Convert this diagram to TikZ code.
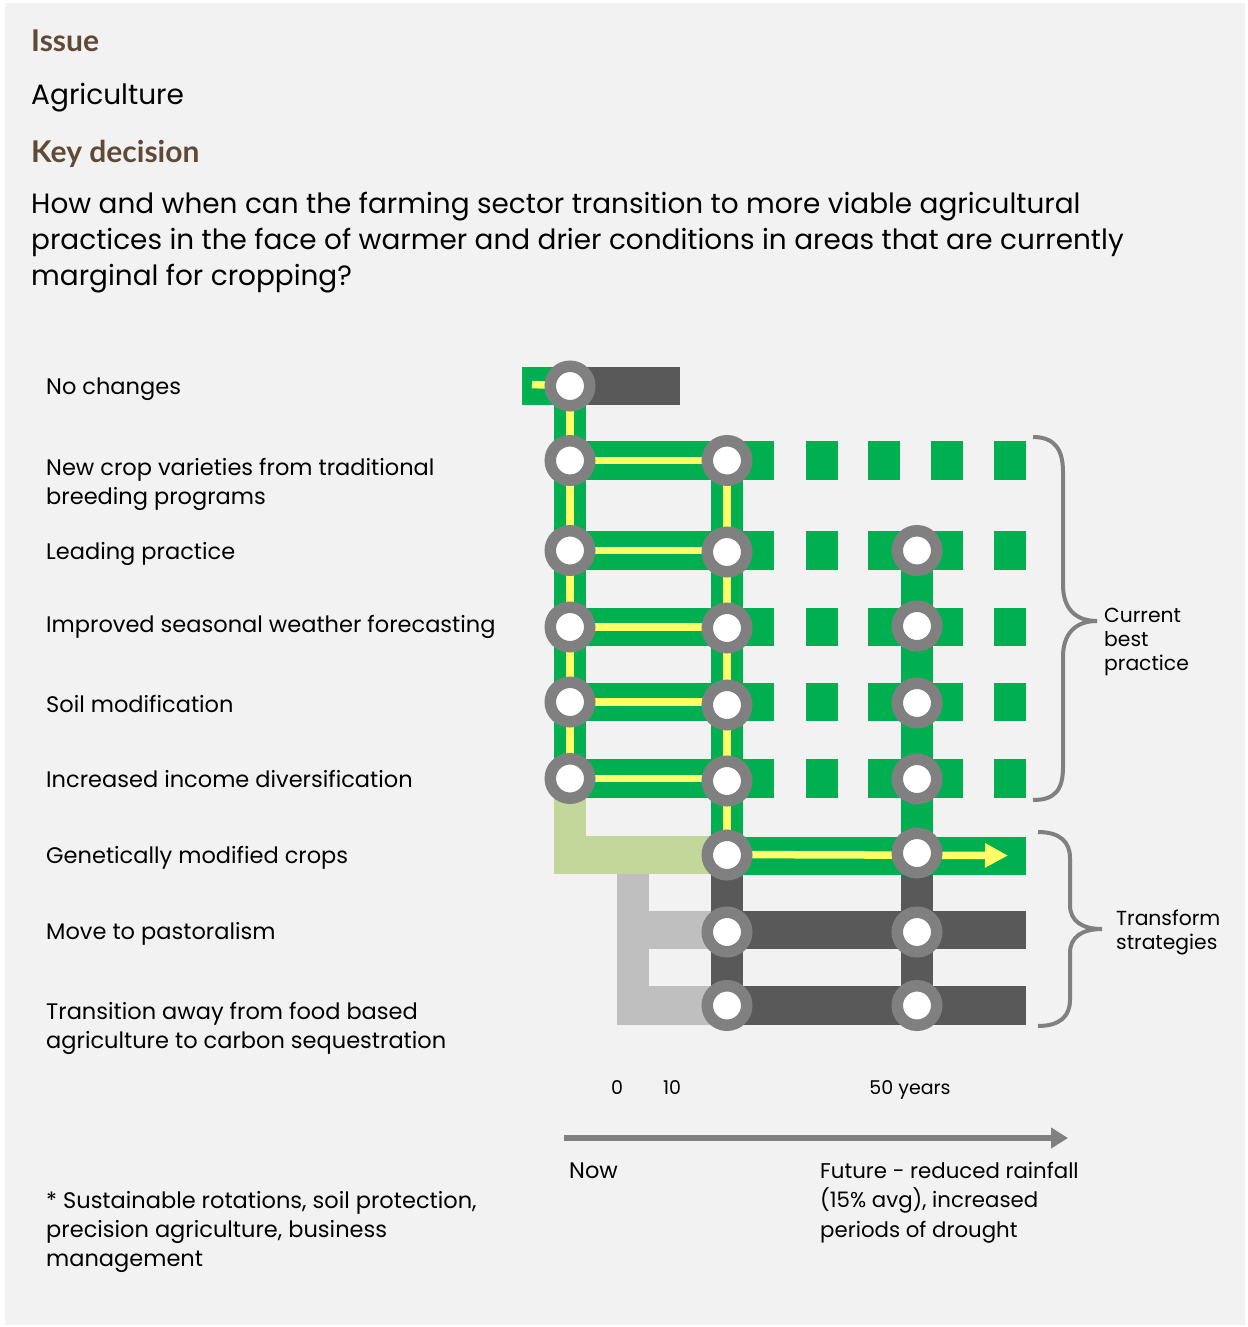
\documentclass[tikz,border=0pt]{standalone}
\usepackage{fontspec}
\setmainfont{Poppins}
\newfontfamily\hdfont{Lato}
\usetikzlibrary{arrows.meta,backgrounds}
\definecolor{bg}{HTML}{F2F2F2}
\definecolor{grn}{HTML}{00B050}
\definecolor{yel}{HTML}{FFFF66}
\definecolor{dgr}{HTML}{595959}
\definecolor{lgr}{HTML}{BFBFBF}
\definecolor{lgn}{HTML}{C4D79B}
\definecolor{mgr}{HTML}{808080}
\definecolor{brn}{HTML}{5E4A36}
\newcommand\labfont{\fontsize{22.5}{29}\selectfont}
\newcommand\futfont{\fontsize{21.3}{29.5}\selectfont}
\newcommand\qfont{\fontsize{27.9}{36}\selectfont}
\newcommand\smfont{\fontsize{19}{24}\selectfont}
\newcommand\brfont{\fontsize{20.3}{24}\selectfont}
\begin{document}
\begin{tikzpicture}[x=1pt,y=-1pt,
  stopnode/.style={circle, fill=white, draw=mgr, line width=11.5pt, minimum size=39.5pt, inner sep=0pt},
  vbar/.style={line width=32pt},
  hbar/.style={line width=38.5pt},
  yline/.style={yel, line width=7.5pt},
  txt/.style={anchor=base west, inner sep=0pt, align=left, text=black},
  brace/.style={draw=mgr, line width=4pt}]
\useasboundingbox (0,0) rectangle (1247,1327);
% stops
\node[stopnode] (a0) at (570,386) {};
\node[stopnode] (a1) at (570,460.5) {};
\node[stopnode] (a2) at (570,550.5) {};
\node[stopnode] (a3) at (570,627) {};
\node[stopnode] (a4) at (570,702) {};
\node[stopnode] (a5) at (570,778.5) {};
\node[stopnode] (b1) at (727,460.5) {};
\node[stopnode] (b2) at (727,552) {};
\node[stopnode] (b3) at (727,628) {};
\node[stopnode] (b4) at (727,705) {};
\node[stopnode] (b5) at (727,781) {};
\node[stopnode] (b6) at (727,855) {};
\node[stopnode] (b7) at (727,932) {};
\node[stopnode] (b8) at (727,1005.5) {};
\node[stopnode] (c2) at (917,550.5) {};
\node[stopnode] (c3) at (917,626) {};
\node[stopnode] (c4) at (917,703) {};
\node[stopnode] (c5) at (917,779) {};
\node[stopnode] (c6) at (917,853) {};
\node[stopnode] (c7) at (917,932) {};
\node[stopnode] (c8) at (917,1005.5) {};
% free ends
\coordinate (nc0) at (522,386);
\coordinate (nc1) at (680,386);
\coordinate (ny0) at (532,384.5);
\coordinate (lg0) at (633,873);
\coordinate (lg1) at (633,1025);
\coordinate (lg7) at (617,930);
\coordinate (lg8) at (617,1005.5);
\coordinate (ln0) at (570,873);
\coordinate (ln1) at (554,855);
\coordinate (e6) at (1026,855);
\coordinate (e7) at (1026,930);
\coordinate (e8) at (1026,1005.5);
\coordinate (ar6) at (1008,855.5);
\coordinate (ax0) at (564,1138);
\coordinate (ax1) at (1068,1138);
\begin{pgfonlayer}{background}
\fill[white] (0,0) rectangle (1247,1327);
\fill[bg] (5,3) rectangle (1245,1325);
% no changes
\draw[hbar, grn] (nc0) -- (a0.center);
\draw[hbar, dgr] (a0.center) -- (nc1);
% light grey
\draw[vbar, lgr] (lg0) -- (lg1);
\draw[hbar, lgr] (lg7) -- (lg7 -| b7.center);
\draw[hbar, lgr] (lg8) -- (b8.center);
% light green
\draw[vbar, lgn] (a5.center) -- (ln0);
\draw[hbar, lgn] (ln1) -- (b6.center);
% dark grey
\draw[vbar, dgr] (b6.center) -- (b8.center);
\draw[vbar, dgr] (c6.center) -- (c8.center);
\draw[hbar, dgr] (lg7 -| b7.center) -- (e7);
\draw[hbar, dgr] (b8.center) -- (e8);
% green verticals
\draw[vbar, grn] (a0.center) -- (a5.center);
\draw[vbar, grn] (b1.center) -- (b6.center);
\draw[vbar, grn] (c2.center) -- (c6.center);
% green rows
\foreach \n in {1,...,5}{
  \draw[hbar, grn] ([xshift=-16pt]a\n.center) -- ([xshift=47pt]a\n.center -| b\n.center);
  \fill[grn] ([yshift=-19.25pt]a\n.center -| 806,0) rectangle ([yshift=19.25pt]a\n.center -| 838,0);
  \fill[grn] ([yshift=-19.25pt]a\n.center -| 994,0) rectangle ([yshift=19.25pt]a\n.center -| 1026,0);
}
\fill[grn] ([yshift=-19.25pt]a1.center -| 868,0) rectangle ([yshift=19.25pt]a1.center -| 900,0);
\fill[grn] ([yshift=-19.25pt]a1.center -| 931,0) rectangle ([yshift=19.25pt]a1.center -| 963,0);
\foreach \n in {2,...,5}{
  \fill[grn] ([yshift=-19.25pt]a\n.center -| 868,0) rectangle ([yshift=19.25pt]a\n.center -| 963,0);
}
\draw[hbar, grn] ([yshift=-1pt]b6.center) -- ([yshift=-1pt]e6);
% yellow
\draw[yline] (ny0) -- (a0.center);
\draw[yline] (a0.center) -- (a5.center);
\draw[yline] (b1.center) -- (b6.center);
\foreach \n in {1,...,5}{
  \draw[yline] (a\n.center) -- (a\n.center -| b\n.center);
}
\draw[yline, -{Triangle[length=23pt,width=23pt]}] ([yshift=0.5pt]b6.center) -- (ar6);
% braces
\draw[brace] (1033,437) .. controls (1055,437) and (1063,450) .. (1063,472) -- (1063,585)
  .. controls (1063,608) and (1075,621) .. (1097,621)
  .. controls (1075,621) and (1063,634) .. (1063,657) -- (1063,767)
  .. controls (1063,790) and (1055,800) .. (1033,800);
\draw[brace] (1038,832) .. controls (1060,832) and (1070,842) .. (1070,858) -- (1070,905)
  .. controls (1070,921) and (1082,929) .. (1102,929)
  .. controls (1082,929) and (1070,937) .. (1070,953) -- (1070,1000)
  .. controls (1070,1016) and (1060,1026) .. (1038,1026);
% axis
\draw[mgr, line width=5.5pt, -{Triangle[length=17pt,width=20pt]}] (ax0) -- (ax1);
\end{pgfonlayer}
% header
\node[txt, text=brn, font=\hdfont\bfseries\fontsize{30}{34}\selectfont] (t1) at (31,52) {Issue};
\node[txt, font=\fontsize{28}{34}\selectfont] (t2) at (31,105) {Agriculture};
\node[txt, text=brn, font=\hdfont\bfseries\fontsize{30}{34}\selectfont] (t3) at (31,162) {Key decision};
\node[txt, font=\qfont] (t4) at (31,285) {How and when can the farming sector transition to more viable agricultural\\practices in the face of warmer and drier conditions in areas that are currently\\marginal for cropping?};
% labels
\node[txt, font=\labfont] (l0) at (46,394) {No changes};
\node[txt, font=\labfont] (l1) at (46,504) {New crop varieties from traditional\\breeding programs};
\node[txt, font=\labfont] (l2) at (46,559) {Leading practice};
\node[txt, font=\labfont] (l3) at (46,632) {Improved seasonal weather forecasting};
\node[txt, font=\labfont] (l4) at (46,712) {Soil modification};
\node[txt, font=\labfont] (l5) at (46,787) {Increased income diversification};
\node[txt, font=\labfont] (l6) at (46,863) {Genetically modified crops};
\node[txt, font=\labfont] (l7) at (46,939) {Move to pastoralism};
\node[txt, font=\labfont] (l8) at (46,1048) {Transition away from food based\\agriculture to carbon sequestration};
% brace labels
\node[txt, font=\brfont] (cb) at (1104,670) {Current\\best\\practice};
\node[txt, font=\brfont] (ts) at (1116,949) {Transform\\strategies};
% axis labels
\node[anchor=base, inner sep=0pt, font=\smfont] (x0) at (617,1094) {0};
\node[anchor=base, inner sep=0pt, font=\smfont] (x10) at (672,1094) {10};
\node[anchor=base, inner sep=0pt, font=\smfont] (x50) at (910,1094) {50 years};
\node[txt, font=\fontsize{22.5}{29}\selectfont] (now) at (569,1178) {Now};
\node[txt, font=\futfont] (fut) at (820,1237) {Future - reduced rainfall\\(15\% avg), increased\\periods of drought};
\node[txt, font=\labfont] (fn) at (46,1266) {* Sustainable rotations, soil protection,\\precision agriculture, business\\management};
\end{tikzpicture}
\end{document}
